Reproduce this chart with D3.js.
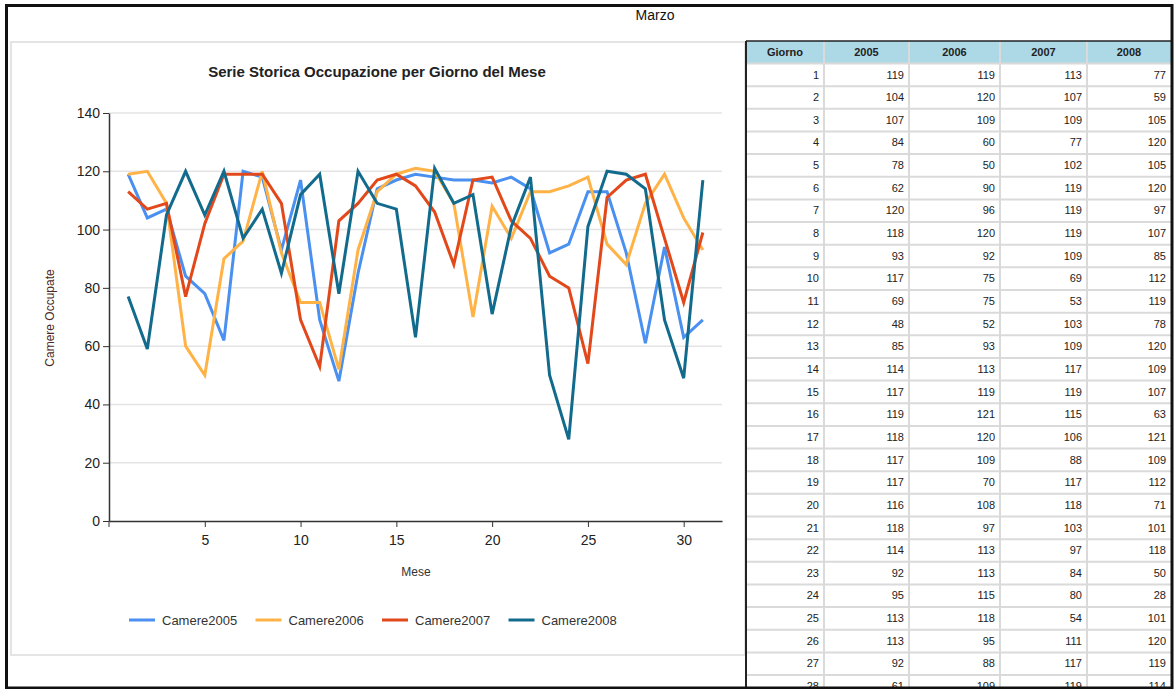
<!DOCTYPE html>
<html><head><meta charset="utf-8">
<script src="https://cdn.jsdelivr.net/npm/d3@7/dist/d3.min.js"></script>
<style>
html,body{margin:0;padding:0;background:#fff;}
svg{display:block;font-family:"Liberation Sans",Arial,sans-serif;}
</style></head>
<body><svg id="c" width="1174" height="689"></svg>
<script>
const days = d3.range(1, 32);
const years = ["2005", "2006", "2007", "2008"];
const seriesNames = ["Camere2005", "Camere2006", "Camere2007", "Camere2008"];
const camere2005 = [119,104,107,84,78,62,120,118,93,117,69,48,85,114,117,119,118,117,117,116,118,114,92,95,113,113,92,61,94,63,69];
const camere2006 = [119,120,109,60,50,90,96,120,92,75,75,52,93,113,119,121,120,109,70,108,97,113,113,115,118,95,88,109,119,104,93];
const camere2007 = [113,107,109,77,102,119,119,119,109,69,53,103,109,117,119,115,106,88,117,118,103,97,84,80,54,111,117,119,97,75,99];
const camere2008 = [77,59,105,120,105,120,97,107,85,112,119,78,120,109,107,63,121,109,112,71,101,118,50,28,101,120,119,114,69,49,117];
const yTicks = [0,20,40,60,80,100,120,140];
const xTicks = [5,10,15,20,25,30];
const colors = ["#4a90f0", "#ffb347", "#e2481a", "#126b8c"];
const allSeries = [camere2005, camere2006, camere2007, camere2008];

const svg = d3.select("#c");

// Page header
svg.append("text").attr("x", 655).attr("y", 20).attr("text-anchor", "middle")
  .attr("font-size", 14).attr("fill", "#111").text("Marzo");

// Chart panel
svg.append("rect").attr("x", 11).attr("y", 42).attr("width", 734).attr("height", 613)
  .attr("fill", "#fff").attr("stroke", "#dcdcdc").attr("stroke-width", 1.5);

const x = d3.scaleLinear().domain([0, 32]).range([109, 722]);
const y = d3.scaleLinear().domain([0, 140]).range([521, 113]);

svg.append("text").attr("x", 377).attr("y", 77).attr("text-anchor", "middle")
  .attr("font-size", 15).attr("font-weight", "bold").attr("fill", "#222")
  .text("Serie Storica Occupazione per Giorno del Mese");

// gridlines
svg.append("g").selectAll("line").data(yTicks.filter(d => d > 0)).join("line")
  .attr("x1", x(0)).attr("x2", x(32)).attr("y1", d => y(d)).attr("y2", d => y(d))
  .attr("stroke", "#e4e4e4").attr("stroke-width", 1.5);

// y axis
const gy = svg.append("g").attr("transform", `translate(${x(0)},0)`)
  .call(d3.axisLeft(y).tickValues(yTicks).tickSize(6).tickSizeOuter(0));
gy.select(".domain").attr("stroke", "#333").attr("stroke-width", 1.5);
gy.selectAll(".tick line").attr("stroke", "#333");
gy.selectAll(".tick text").attr("font-size", 14).attr("fill", "#222")
  .attr("font-family", "Liberation Sans, Arial, sans-serif").attr("x", -9);

// x axis
const gx = svg.append("g").attr("transform", `translate(0,${y(0)})`)
  .call(d3.axisBottom(x).tickValues(xTicks).tickSize(6).tickSizeOuter(0));
gx.select(".domain").attr("stroke", "#333").attr("stroke-width", 1.5);
gx.selectAll(".tick line").attr("stroke", "#333");
gx.selectAll(".tick text").attr("font-size", 14).attr("fill", "#222")
  .attr("font-family", "Liberation Sans, Arial, sans-serif").attr("dy", "1.1em");
svg.append("line").attr("x1", x(0)).attr("x2", x(0)).attr("y1", y(0)).attr("y2", y(0) + 6)
  .attr("stroke", "#333");

// axis titles
svg.append("text").attr("x", 416).attr("y", 576).attr("text-anchor", "middle")
  .attr("font-size", 12).attr("fill", "#333").text("Mese");
svg.append("text").attr("transform", "translate(54,318) rotate(-90)").attr("text-anchor", "middle")
  .attr("font-size", 12).attr("fill", "#4a2a22").text("Camere Occupate");

// lines
const line = d3.line().x((d, i) => x(days[i])).y(d => y(d));
svg.append("g").selectAll("path").data(allSeries).join("path")
  .attr("d", line).attr("fill", "none")
  .attr("stroke", (d, i) => colors[i]).attr("stroke-width", 3)
  .attr("stroke-linejoin", "miter");

// legend
const leg = svg.append("g").selectAll("g").data(seriesNames).join("g")
  .attr("transform", (d, i) => `translate(${129 + i * 126.5},620)`);
leg.append("line").attr("x1", 0).attr("x2", 26).attr("y1", 0).attr("y2", 0)
  .attr("stroke", (d, i) => colors[i]).attr("stroke-width", 3);
leg.append("text").attr("x", 33).attr("y", 5).attr("font-size", 13).attr("fill", "#333").text(d => d);

// Table
const colEdges = [746, 824, 909, 1000, 1087, 1171];
const headers = ["Giorno"].concat(years);
const rowH = 22.65, headTop = 41, headH = 22.5;
const rowY = d3.scaleLinear().domain([0, 1]).range([headTop + headH, headTop + headH + rowH]);
const tbl = svg.append("g");
tbl.append("defs").append("clipPath").attr("id", "tclip")
  .append("rect").attr("x", 740).attr("y", 0).attr("width", 440).attr("height", 687);
const tg = tbl.append("g").attr("clip-path", "url(#tclip)");
tg.append("rect").attr("x", colEdges[0]).attr("y", headTop).attr("width", colEdges[5] - colEdges[0]).attr("height", headH)
  .attr("fill", "#add8e6");
tg.selectAll("text.h").data(headers).join("text").attr("class", "h")
  .attr("x", (d, i) => (colEdges[i] + colEdges[i + 1]) / 2).attr("y", headTop + 15)
  .attr("text-anchor", "middle").attr("font-size", 11).attr("font-weight", "bold")
  .attr("font-family", "Liberation Sans Narrow, Liberation Sans, Arial")
  .attr("fill", "#222").text(d => d);
const rows = days.map((d, i) => [d, camere2005[i], camere2006[i], camere2007[i], camere2008[i]]);
// row lines
tg.selectAll("line.r").data(d3.range(0, rows.length + 1)).join("line").attr("class", "r")
  .attr("x1", colEdges[0]).attr("x2", colEdges[5]).attr("y1", d => rowY(d)).attr("y2", d => rowY(d))
  .attr("stroke", "#dadada").attr("stroke-width", 2);
// column lines
tg.selectAll("line.c").data(colEdges.slice(1, 5)).join("line").attr("class", "c")
  .attr("x1", d => d).attr("x2", d => d).attr("y1", headTop).attr("y2", 689)
  .attr("stroke", "#dadada").attr("stroke-width", 2);
const rg = tg.selectAll("g.row").data(rows).join("g").attr("class", "row");
rg.selectAll("text").data(r => r.map((v, j) => ({v, j, i: r[0] - 1}))).join("text")
  .attr("x", d => colEdges[d.j + 1] - 5).attr("y", d => rowY(d.i) + 15)
  .attr("text-anchor", "end").attr("font-size", 11)
  .attr("font-family", "Liberation Sans Narrow, Liberation Sans, Arial")
  .attr("fill", "#222").text(d => d.v);
tg.append("line").attr("x1", colEdges[0]).attr("x2", colEdges[0]).attr("y1", headTop).attr("y2", 689)
  .attr("stroke", "#222").attr("stroke-width", 2);
tg.append("line").attr("x1", colEdges[0]).attr("x2", colEdges[5]).attr("y1", headTop).attr("y2", headTop)
  .attr("stroke", "#222").attr("stroke-width", 1.5);

// outer frame
svg.append("rect").attr("x", 6.5).attr("y", 5.5).attr("width", 1165.5).attr("height", 682.5)
  .attr("fill", "none").attr("stroke", "#111").attr("stroke-width", 3);
</script></body></html>
